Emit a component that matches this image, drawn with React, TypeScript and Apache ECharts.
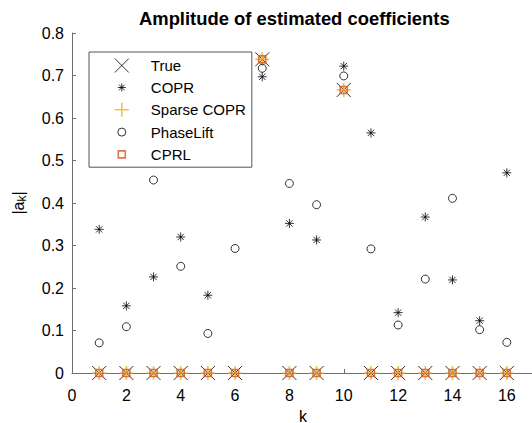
import React, { useEffect, useRef } from "react";
import * as echarts from "echarts";

const kValues = [1, 2, 3, 4, 5, 6, 7, 8, 9, 10, 11, 12, 13, 14, 15, 16];
const trueValues = [0, 0, 0, 0, 0, 0, 0.738, 0, 0, 0.666, 0, 0, 0, 0, 0, 0];
const coprValues = [0.338, 0.158, 0.226, 0.32, 0.183, null, 0.697, 0.352, 0.313, 0.722, 0.565, 0.142, 0.367, 0.219, 0.123, 0.471];
const sparseCoprValues = [0, 0, 0, 0, 0, 0, 0.738, 0, 0, 0.666, 0, 0, 0, 0, 0, 0];
const phaseLiftValues = [0.071, 0.109, 0.454, 0.251, 0.093, 0.293, 0.717, 0.446, 0.396, 0.699, 0.292, 0.113, 0.221, 0.411, 0.102, 0.072];
const cprlValues = [0, 0, 0, 0, 0, 0, 0.738, 0, 0, 0.666, 0, 0, 0, 0, 0, 0];
const seriesNames = ["True", "COPR", "Sparse COPR", "PhaseLift", "CPRL"];
const yTicks = ["0", "0.1", "0.2", "0.3", "0.4", "0.5", "0.6", "0.7", "0.8"];

const ORANGE = "#EDB120";
const RED = "#D95319";

const pts = (vals: (number | null)[]) => kValues.map((k, i) => [k, vals[i] === null ? "-" : vals[i]]);

const P_X = "path://M0,0L10,10M10,0L0,10";
const P_STAR = "path://M5,0L5,10M0,5L10,5M1.5,1.5L8.5,8.5M8.5,1.5L1.5,8.5";
const P_PLUS = "path://M5,0L5,10M0,5L10,5";

const L_X = "path://M0,0L14,14M14,0L0,14";
const L_STAR = "path://M0,0M14,14M7,3L7,11M3,7L11,7M4.2,4.2L9.8,9.8M9.8,4.2L4.2,9.8";
const L_PLUS = "path://M7,0L7,14M0,7L14,7";
const L_CIRC = "path://M0,0M14,14M11,7A4,4,0,1,1,3,7A4,4,0,1,1,11,7";
const L_SQ = "path://M0,0M14,14M3.5,3.5L10.5,3.5L10.5,10.5L3.5,10.5Z";

export default function App() {
  const ref = useRef<HTMLDivElement>(null);
  useEffect(() => {
    if (!ref.current) return;
    const chart = echarts.init(ref.current, undefined, { renderer: "svg" });
    const font = "'Liberation Sans', Arial, Helvetica, sans-serif";
    const axisColor = "#6e6e6e";
    const lineStyle = (c: string, w = 1) => ({ color: "transparent", borderColor: c, borderWidth: w });
    chart.setOption({
      animation: false,
      textStyle: { fontFamily: font },
      title: {
        text: "Amplitude of estimated coefficients",
        left: 139,
        top: 9,
        padding: 0,
        textStyle: { fontSize: 18.4, fontWeight: "bold", color: "#000", fontFamily: font },
      },
      grid: { left: 72, right: -2, top: 33, bottom: 50, containLabel: false, outerBoundsMode: "none" },
      legend: {
        orient: "vertical",
        left: 89,
        top: 52,
        padding: [6, 6, 5, 25],
        itemWidth: 48,
        itemHeight: 14,
        itemGap: 7,
        backgroundColor: "#fff",
        borderColor: "#555",
        borderWidth: 1,
        textStyle: { fontSize: 15, color: "#000", lineHeight: 14, fontFamily: font },
        data: [
          { name: "True", icon: L_X, itemStyle: lineStyle("#000") },
          { name: "COPR", icon: L_STAR, itemStyle: lineStyle("#000") },
          { name: "Sparse COPR", icon: L_PLUS, itemStyle: lineStyle(ORANGE, 1.6) },
          { name: "PhaseLift", icon: L_CIRC, itemStyle: lineStyle("#000") },
          { name: "CPRL", icon: L_SQ, itemStyle: lineStyle(RED, 1.6) },
        ],
      },
      xAxis: {
        type: "value",
        min: 0,
        max: 17,
        interval: 2,
        name: "k",
        nameLocation: "middle",
        nameGap: 35,
        nameTextStyle: { fontSize: 16, color: "#000", fontFamily: font },
        axisLine: { show: true, lineStyle: { color: axisColor, width: 1 } },
        axisTick: { show: true, inside: true, length: 4, lineStyle: { color: axisColor } },
        axisLabel: {
          fontSize: 16,
          color: "#000",
          margin: 14,
          showMaxLabel: false,
          formatter: (v: number) => (v > 16 ? "" : String(v)),
        },
        splitLine: { show: false },
      },
      yAxis: {
        type: "value",
        min: 0,
        max: 0.8,
        interval: 0.1,
        name: "{a||a}{s|k}{a||}",
        nameLocation: "middle",
        nameGap: 44,
        nameRotate: 90,
        nameTextStyle: {
          color: "#000",
          fontFamily: font,
          rich: {
            a: { fontSize: 16, color: "#000", fontFamily: font, lineHeight: 20, verticalAlign: "middle" },
            s: { fontSize: 12, color: "#000", fontFamily: font, lineHeight: 20, verticalAlign: "bottom", padding: [10, 0, 0, 0] },
          },
        },
        axisLine: { show: true, lineStyle: { color: axisColor, width: 1 } },
        axisTick: { show: true, inside: true, length: 4, lineStyle: { color: axisColor } },
        axisLabel: {
          fontSize: 16,
          color: "#000",
          margin: 8,
          formatter: (v: number) => yTicks[Math.round(v * 10)] ?? "",
        },
        splitLine: { show: false },
      },
      series: [
        {
          name: seriesNames[0],
          type: "scatter",
          symbol: P_X,
          symbolSize: 14,
          itemStyle: lineStyle("#000"),
          data: pts(trueValues),
          emphasis: { disabled: true },
        },
        {
          name: seriesNames[1],
          type: "scatter",
          symbol: P_STAR,
          symbolSize: 9,
          itemStyle: lineStyle("#000"),
          data: pts(coprValues),
          emphasis: { disabled: true },
        },
        {
          name: seriesNames[2],
          type: "scatter",
          symbol: P_PLUS,
          symbolSize: 14,
          itemStyle: lineStyle(ORANGE, 1.7),
          data: pts(sparseCoprValues),
          emphasis: { disabled: true },
        },
        {
          name: seriesNames[3],
          type: "scatter",
          symbol: "circle",
          symbolSize: 8,
          itemStyle: lineStyle("#000"),
          data: pts(phaseLiftValues),
          emphasis: { disabled: true },
        },
        {
          name: seriesNames[4],
          type: "scatter",
          symbol: "rect",
          symbolSize: 7,
          itemStyle: lineStyle(RED, 1.6),
          data: pts(cprlValues),
          emphasis: { disabled: true },
        },
      ],
    });
    return () => chart.dispose();
  }, []);
  return <div ref={ref} style={{ width: 532, height: 423, position: "fixed", left: 0, top: 0, background: "#fff" }} />;
}
